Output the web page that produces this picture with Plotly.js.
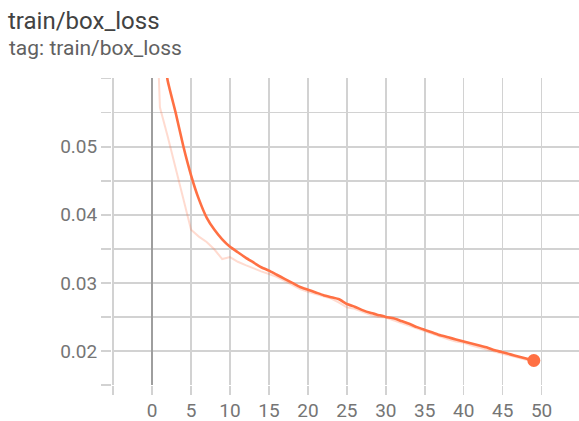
<!DOCTYPE html>
<html>
<head>
<meta charset="utf-8">
<script src="https://cdn.plot.ly/plotly-3.0.1.min.js"></script>
<style>
html,body{margin:0;padding:0;background:#fff;}
#chart{width:579px;height:421px;}
</style>
</head>
<body>
<div id="chart"></div>
<script>
const steps = [0,1,2,3,4,5,6,7,8,9,10,11,12,13,14,15,16,17,18,19,20,21,22,23,24,25,26,27,28,29,30,31,32,33,34,35,36,37,38,39,40,41,42,43,44,45,46,47,48,49];
const rawLoss = [0.088,0.0558,0.0515,0.0468,0.0425,0.0378,0.0368,0.0360,0.0349,0.0335,0.0338,0.0331,0.0326,0.0321,0.0317,0.0313,0.0309,0.0303,0.0297,0.0291,0.0287,0.0284,0.0280,0.0277,0.0271,0.0264,0.0262,0.0257,0.0253,0.0250,0.0249,0.0245,0.0241,0.0237,0.0232,0.0228,0.0224,0.0221,0.0217,0.0214,0.0212,0.0208,0.0205,0.0202,0.0199,0.0196,0.0194,0.0190,0.0187,0.0184];
const smoothedLoss = [0.088,0.068,0.0597,0.0551,0.0501,0.0458,0.0423,0.0396,0.0378,0.0364,0.0353,0.0345,0.0337,0.0330,0.0323,0.0318,0.0312,0.0306,0.0300,0.0294,0.0290,0.0286,0.0282,0.0279,0.0276,0.0269,0.0265,0.0260,0.0256,0.0253,0.0250,0.0248,0.0244,0.0240,0.0235,0.0231,0.0227,0.0223,0.0220,0.0217,0.0214,0.0211,0.0208,0.0205,0.0201,0.0198,0.0195,0.0192,0.0189,0.0186];
const xTickVals = [-5,0,5,10,15,20,25,30,35,40,45,50,55];
const xTickText = ['','0','5','10','15','20','25','30','35','40','45','50',''];
const yTickVals = [0.015,0.02,0.025,0.03,0.035,0.04,0.045,0.05,0.055,0.06];
const yTickText = ['','0.02','','0.03','','0.04','','0.05','',''];
const titleText = 'train/box_loss';
const subtitleText = 'tag: train/box_loss';

const lineColor = '#ff7043';
const gridColor = '#d2d2d2';
const fontFam = 'Roboto, "Noto Sans", sans-serif';

const lastIdx = steps.length - 1;

const traces = [
  {x: steps, y: rawLoss, type: 'scatter', mode: 'lines',
   line: {color: lineColor, width: 2}, opacity: 0.25, hoverinfo: 'skip'},
  {x: steps, y: smoothedLoss, type: 'scatter', mode: 'lines',
   line: {color: lineColor, width: 2.6, shape: 'spline', smoothing: 0.4}, hoverinfo: 'skip'},
  {x: [steps[lastIdx]], y: [smoothedLoss[lastIdx]], type: 'scatter', mode: 'markers',
   marker: {color: lineColor, size: 13}, hoverinfo: 'skip'}
];

const layout = {
  width: 579, height: 421,
  margin: {l: 112, r: 0, t: 78, b: 36},
  paper_bgcolor: '#fff', plot_bgcolor: '#fff',
  showlegend: false,
  font: {family: fontFam, color: '#757575'},
  title: {text: titleText, x: 8/579, xref: 'container', xanchor: 'left',
          y: 1 - 21/421, yref: 'container', yanchor: 'middle',
          font: {family: fontFam, size: 24, color: '#424242'}},
  annotations: [{text: subtitleText, xref: 'paper', yref: 'paper',
                 x: (7 - 112) / 467, y: (385 - 48) / 307, xanchor: 'left', yanchor: 'middle',
                 showarrow: false, font: {family: fontFam, size: 21, color: '#616161'}}],
  xaxis: {range: [-5.15, 54.8], tickmode: 'array', tickvals: xTickVals, ticktext: xTickText,
          showgrid: true, gridcolor: gridColor, gridwidth: 1.5,
          ticks: 'outside', ticklen: 9, tickcolor: gridColor, tickwidth: 1.5,
          ticklabelstandoff: -1,
          zeroline: true, zerolinecolor: '#9e9e9e', zerolinewidth: 2,
          showline: false, tickfont: {size: 19, color: '#757575'}, fixedrange: true},
  yaxis: {range: [0.015, 0.0601], tickmode: 'array', tickvals: yTickVals, ticktext: yTickText,
          showgrid: true, gridcolor: gridColor, gridwidth: 1.5,
          ticks: 'outside', ticklen: 10, tickcolor: gridColor, tickwidth: 1.5,
          zeroline: false, showline: false,
          tickfont: {size: 19, color: '#757575'}, fixedrange: true}
};

Plotly.newPlot('chart', traces, layout, {displayModeBar: false, staticPlot: true});
</script>
</body>
</html>
